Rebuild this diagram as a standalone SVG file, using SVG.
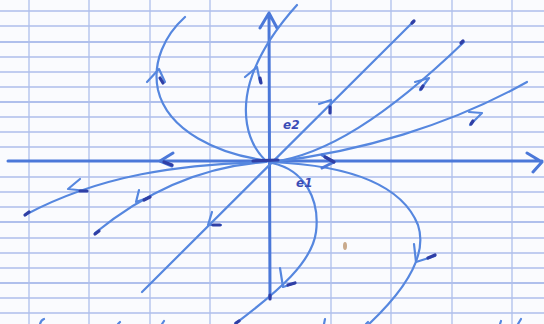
<svg xmlns="http://www.w3.org/2000/svg" width="544" height="324" viewBox="0 0 544 324">
<style>
.g{stroke:#afbfec;stroke-width:1.3;fill:none}
.gm{stroke:#98ade6;stroke-width:1.7;fill:none}
.ink{stroke:#5687df;stroke-width:2.2;fill:none;stroke-linecap:round;stroke-linejoin:round}
.ax{stroke:#4b78d9;stroke-width:3;fill:none;stroke-linecap:round;stroke-linejoin:round}
.dk{stroke:#2f3fa6;stroke-width:3.2;fill:none;stroke-linecap:round}
.lbl{font-family:"DejaVu Sans",sans-serif;font-style:italic;font-size:12px;fill:#3a4cb6;font-weight:bold}
</style>
<rect width="544" height="324" fill="#fafbfe"/>
<g id="grid">
<path class="g" d="M0,11H544M0,26H544M0,57H544M0,72H544M0,87H544M0,117H544M0,132H544M0,147H544M0,177H544M0,192H544M0,207H544M0,238H544M0,253H544M0,268H544M0,298H544M0,313H544"/>
<path class="gm" d="M0,42H544M0,102H544M0,222H544M0,283H544"/>
<path class="g" d="M29,0V324M89,0V324M150,0V324M210,0V324M331,0V324M391,0V324M452,0V324M512,0V324"/>
</g>
<g id="axes">
<path class="ax" d="M8,161L542,161M527,153L542,162L533,172"/>
<path class="ax" d="M270,297L269,13M260,28L269,13L277,28"/>
</g>
<g id="connectors">
<path class="ink" d="M142,292L414,21"/>
<path class="ink" d="M263,160C220,154 168,132 158,90C152,62 165,35 185,17"/>
<path class="ink" d="M265,160C245,140 242,110 250,82C256,62 270,35 297,5"/>
<path class="ink" d="M272,163C305,170 320,200 316,232C312,262 280,290 235,324"/>
<path class="ink" d="M272,162C340,165 400,180 418,225C428,255 405,290 369,324"/>
<path class="ink" d="M272,162C325,155 385,118 464,42"/>
<path class="ink" d="M272,162C360,152 450,125 527,82"/>
<path class="ink" d="M266,162C180,164 100,175 25,215"/>
<path class="ink" d="M266,162C220,165 160,180 95,233"/>
</g>
<g id="arrows">
<path class="ink" d="M147,82L159,69L165,82"/>
<path class="ink" d="M245,77L257,67L260,82"/>
<path class="ax" d="M173,153L160,161L172,166"/>
<path class="ax" d="M322,155L334,162L322,168"/>
<path class="ink" d="M319,104L331,100L330,113"/>
<path class="ink" d="M212,212L208,225L221,225"/>
<path class="ink" d="M415,82L429,78L420,90"/>
<path class="ink" d="M469,112L482,113L470,125"/>
<path class="ink" d="M80,179L68,189L87,191"/>
<path class="ink" d="M139,190L136,202L150,197"/>
<path class="ink" d="M280,268L283,287L295,283"/>
<path class="ink" d="M414,244L416,262L435,256"/>
</g>
<g id="marks">
<path class="dk" d="M253,161L278,160"/>
<path class="dk" d="M412,23L414,21"/>
<path class="dk" d="M461,43L463,41"/>
<path class="dk" d="M25,215L29,212"/>
<path class="dk" d="M95,234L99,231"/>
<path class="dk" d="M270,295L270,299"/>
<path class="dk" d="M236,323L239,321"/>
<path class="dk" d="M160,78L163,83"/>
<path class="dk" d="M260,78L261,83"/>
<path class="dk" d="M164,162L172,165"/>
<path class="dk" d="M325,157L334,162"/>
<path class="dk" d="M330,107L330,113"/>
<path class="dk" d="M213,225L220,225"/>
<path class="dk" d="M80,191L87,191"/>
<path class="dk" d="M144,200L150,197"/>
<path class="dk" d="M288,285L295,283"/>
<path class="dk" d="M428,258L435,255"/>
<path class="dk" d="M421,89L423,86"/>
<path class="dk" d="M471,124L473,121"/>
<ellipse cx="345" cy="246" rx="2" ry="4" fill="#c9aa8c"/>
<path class="ink" d="M40,324Q41,320 44,319M118,324L120,322M162,324L164,321M324,324L325,319M366,324L368,322M500,324L501,321M518,324L521,319"/>
</g>
<g id="labels">
<text class="lbl" x="283" y="129">e2</text>
<text class="lbl" x="296" y="187">e1</text>
</g>
</svg>
